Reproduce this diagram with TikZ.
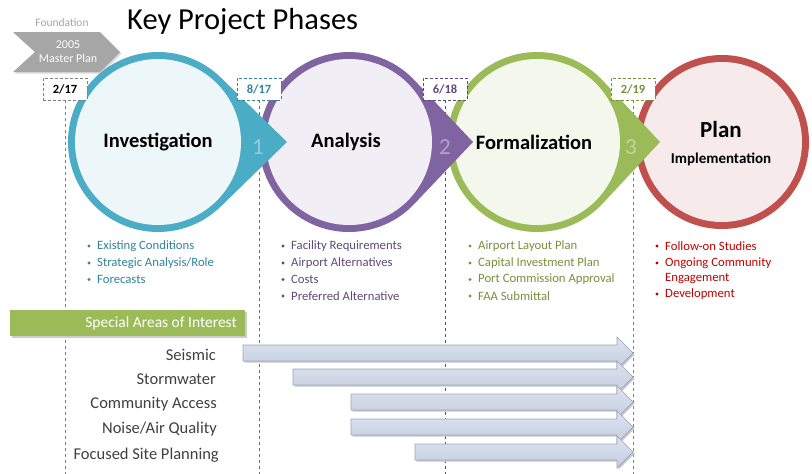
\documentclass[tikz,border=0pt]{standalone}
\usepackage{fontspec}
\setmainfont{Carlito}
\usetikzlibrary{calc}
\definecolor{ringA}{HTML}{4BACC6}\definecolor{inA}{HTML}{EDF6F9}\definecolor{numA}{HTML}{93CDDD}\definecolor{txtA}{HTML}{31849B}
\definecolor{ringB}{HTML}{8064A2}\definecolor{inB}{HTML}{F1EEF5}\definecolor{numB}{HTML}{B3A2C7}\definecolor{txtB}{HTML}{5F497A}
\definecolor{ringC}{HTML}{9BBB59}\definecolor{inC}{HTML}{F3F7EC}\definecolor{numC}{HTML}{C3D69B}\definecolor{txtC}{HTML}{76923C}
\definecolor{ringD}{HTML}{C0504D}\definecolor{inD}{HTML}{F7EAEA}\definecolor{txtD}{HTML}{C00000}
\definecolor{greyF}{HTML}{A6A6A6}\definecolor{greyL}{HTML}{7F7F7F}\definecolor{labc}{HTML}{404040}
\definecolor{arrT}{HTML}{DDE3EF}\definecolor{arrB}{HTML}{C4CDE0}\definecolor{arrD}{HTML}{97A6C3}
\tikzset{
  datebox/.style={draw=#1, densely dashed, fill=white, minimum width=44pt, minimum height=22pt, inner sep=0pt, text=#1, font=\fontsize{12.5}{14}\selectfont\bfseries},
  vline/.style={draw=#1, dashed, line width=0.7pt},
  bultxt/.style={anchor=west, inner sep=0pt, text=#1, font=\fontsize{12.7}{14}\selectfont},
  bulldot/.style={circle, fill=#1, inner sep=0pt, minimum size=3.4pt},
  phasetitle/.style={font=\fontsize{20.5}{23}\selectfont\bfseries, text=black},
  phasenum/.style={font=\fontsize{23}{25}\selectfont, text=#1},
  arealabel/.style={anchor=east, inner sep=0pt, text=labc, font=\fontsize{16.5}{18}\selectfont},
}
\newcommand{\teardrop}[5]{% cx, tipx, ring, inner, R
  \pgfmathsetmacro{\tdang}{acos(#5/(#2-#1))}
  \fill[#3] (#2,142) -- ($(#1,142)+(\tdang:#5)$) arc[start angle=\tdang, end angle=360-\tdang, radius=#5] -- cycle;
  \fill[#4] (#1,142) circle[radius=#5-7];
}
\newcommand{\bul}[5]{% name, x, y, colour, text
  \node[bulldot=#4] (#1d) at (#2,#3) {};
  \node[bultxt=#4] (#1) at (#2+8,#3) {#5};
}
\newcommand{\sarrow}[3]{% name, start x, centre y
  \fill[black!22] (#2+1.5,#3-8+1.5) -- (617+1.5,#3-8+1.5) -- (617+1.5,#3-16+1.5) -- (633+1.5,#3+1.5) -- (617+1.5,#3+16+1.5) -- (617+1.5,#3+8+1.5) -- (#2+1.5,#3+8+1.5) -- cycle;
  \draw[draw=arrD, line width=0.7pt, top color=arrT, bottom color=arrB] (#2,#3-8) -- (617,#3-8) -- (617,#3-16) -- (633,#3) -- (617,#3+16) -- (617,#3+8) -- (#2,#3+8) -- cycle;
  \coordinate (#1) at (#2,#3);
}
\begin{document}
\begin{tikzpicture}[x=1pt,y=-1pt]
\useasboundingbox (0,0) rectangle (812,474);
\fill[white] (0,0) rectangle (812,474);

% dashed vertical lines
\coordinate (l1t) at (65,100);  \coordinate (l1b) at (65,474);
\coordinate (l2t) at (259,100); \coordinate (l2b) at (259,474);
\coordinate (l3t) at (445,100); \coordinate (l3b) at (445,474);
\coordinate (l4t) at (633,100); \coordinate (l4b) at (633,474);
\draw[vline=greyL] (l1t) -- (l1b);
\draw[vline=txtA] (l2t) -- (l2b);
\draw[vline=txtB] (l3t) -- (l3b);
\draw[vline=txtC] (l4t) -- (l4b);

% title and foundation
\node[anchor=west, inner sep=0pt, font=\fontsize{30.5}{34}\selectfont] (title) at (127,22) {Key Project Phases};
\node[text=greyF, inner sep=0pt, font=\fontsize{11.5}{13}\selectfont] (found) at (62,23) {Foundation};
\fill[black!15] (14.5,33.5) -- (101.5,33.5) -- (121.5,53.5) -- (101.5,73.5) -- (14.5,73.5) -- (36.5,53.5) -- cycle;
\fill[greyF] (13,32) -- (100,32) -- (120,52) -- (100,72) -- (13,72) -- (35,52) -- cycle;
\node[text=white, align=center, inner sep=0pt, font=\fontsize{12}{14}\selectfont] (master) at (68,52) {2005\\Master Plan};

% phases (drawn back to front)
\fill[ringD] (722,142) circle[radius=87];
\fill[inD] (722,142) circle[radius=80];
\teardrop{537}{660}{ringC}{inC}{90}
\teardrop{349}{473}{ringB}{inB}{90}
\teardrop{158}{287}{ringA}{inA}{90}

\node[phasenum=numA] (n1) at (258,147) {1};
\node[phasenum=numB] (n2) at (445,147) {2};
\node[phasenum=numC] (n3) at (631,147) {3};

\node[phasetitle] (inv) at (158,142) {Investigation};
\node[phasetitle] (ana) at (346,142) {Analysis};
\node[phasetitle] (form) at (534,142) {Formalization};
\node[font=\fontsize{23}{25}\selectfont\bfseries] (plan) at (721,130) {Plan};
\node[font=\fontsize{15}{17}\selectfont\bfseries] (impl) at (721,159) {Implementation};

% date boxes
\node[datebox=greyL, text=black] (d1) at (65,89) {2/17};
\node[datebox=txtA] (d2) at (259,89) {8/17};
\node[datebox=txtB] (d3) at (445,89) {6/18};
\node[datebox=txtC] (d4) at (633,89) {2/19};

% bullet lists
\bul{a1}{89}{246}{txtA}{Existing Conditions}
\bul{a2}{89}{263}{txtA}{Strategic Analysis/Role}
\bul{a3}{89}{279.5}{txtA}{Forecasts}

\bul{b1}{283}{246}{txtB}{Facility Requirements}
\bul{b2}{283}{263}{txtB}{Airport Alternatives}
\bul{b3}{283}{279.5}{txtB}{Costs}
\bul{b4}{283}{296}{txtB}{Preferred Alternative}

\bul{c1}{470}{246}{txtC}{Airport Layout Plan}
\bul{c2}{470}{263}{txtC}{Capital Investment Plan}
\bul{c3}{470}{279.5}{txtC}{Port Commission Approval}
\bul{c4}{470}{296}{txtC}{FAA Submittal}

\bul{e1}{657}{246}{txtD}{Follow-on Studies}
\bul{e2}{657}{263}{txtD}{Ongoing Community}
\node[bultxt=txtD] (e2b) at (665,278.5) {Engagement};
\bul{e3}{657}{294}{txtD}{Development}

% special areas
\fill[black!20] (11.5,311.5) rectangle (246.5,337.5);
\fill[ringC] (10,310) rectangle (245,336);
\node[anchor=east, inner sep=0pt, text=white, font=\fontsize{15.5}{17}\selectfont] (spec) at (237,323) {Special Areas of Interest};

\node[arealabel] (s1) at (216,355) {Seismic};
\node[arealabel] (s2) at (216,379) {Stormwater};
\node[arealabel] (s3) at (217,404) {Community Access};
\node[arealabel] (s4) at (217,429) {Noise/Air Quality};
\node[arealabel] (s5) at (219,455) {Focused Site Planning};

\sarrow{r1}{243}{353}
\sarrow{r2}{293}{377}
\sarrow{r3}{351}{402}
\sarrow{r4}{351}{427}
\sarrow{r5}{415}{452}
\end{tikzpicture}
\end{document}
